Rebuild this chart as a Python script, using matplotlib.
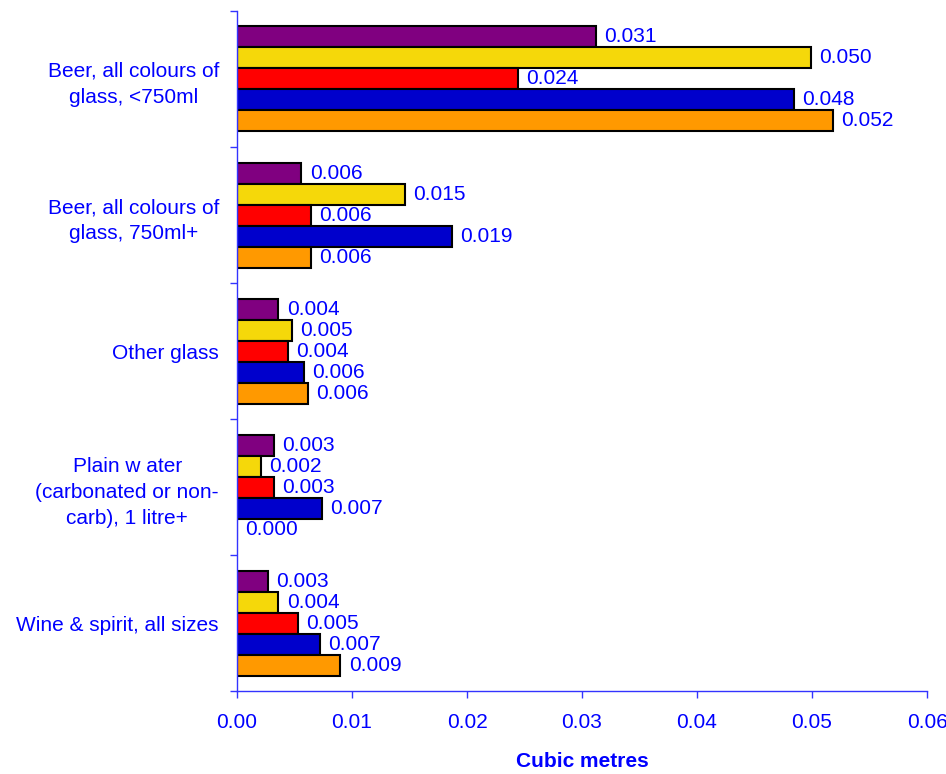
import numpy as np
import matplotlib
matplotlib.use("Agg")
import matplotlib.pyplot as plt

plt.rcParams['font.family'] = ['Liberation Sans', 'DejaVu Sans']

# categories, top to bottom
categories = [
    "Beer, all colours of\nglass, <750ml",
    "Beer, all colours of\nglass, 750ml+",
    "Other glass",
    "Plain w ater\n(carbonated or non-\ncarb), 1 litre+",
    "Wine & spirit, all sizes",
]

# one list per series (drawn top to bottom within each category)
purple_vals = [0.0312, 0.0056, 0.0036, 0.0032, 0.0027]
yellow_vals = [0.0499, 0.0146, 0.0048, 0.0021, 0.0036]
red_vals    = [0.0244, 0.0064, 0.0044, 0.0032, 0.0053]
blue_vals   = [0.0484, 0.0187, 0.0058, 0.0074, 0.0072]
orange_vals = [0.0518, 0.0064, 0.0062, 0.0000, 0.0090]

series = [purple_vals, yellow_vals, red_vals, blue_vals, orange_vals]
colors = ['#800080', '#F5D80A', '#FF0000', '#0000CC', '#FF9900']

text_blue = '#0000FF'
axis_blue = '#3333FF'

fig = plt.figure(figsize=(9.46, 7.74), dpi=100)
ax = fig.add_axes([0.2505, 0.1072, 0.7295, 0.8786])

y = np.arange(len(categories))
h = 0.772 / len(series)

for i, (vals, col) in enumerate(zip(series, colors)):
    pos = y + (i - 2) * h
    ax.barh(pos, vals, height=h, color=col, edgecolor='black', linewidth=1.5)
    for p, v in zip(pos, vals):
        ax.annotate(f"{v:.3f}", (v, p), xytext=(6, 0), textcoords='offset points',
                    ha='left', va='center', color=text_blue, fontsize=15)

ax.set_xlim(0, 0.06)
ax.set_ylim(len(categories) - 0.5, -0.5)

ax.set_xticks(np.arange(0, 0.061, 0.01))
ax.set_xticklabels([f"{t:.2f}" for t in np.arange(0, 0.061, 0.01)])
ax.tick_params(axis='x', colors=axis_blue, labelcolor=text_blue, labelsize=15,
               length=5, width=1, direction='out', pad=11)

# boundary ticks on the y axis, category names as minor ticks
ax.set_yticks(np.arange(-0.5, len(categories), 1.0))
ax.set_yticklabels([])
ax.set_yticks(y, minor=True)
ax.set_yticklabels(categories, minor=True, multialignment='center', linespacing=1.45)
ax.tick_params(axis='y', which='major', colors=axis_blue, length=5, width=1)
ax.tick_params(axis='y', which='minor', length=0, pad=13,
               labelcolor=text_blue, labelsize=15)

for s in ['top', 'right']:
    ax.spines[s].set_visible(False)
for s in ['left', 'bottom']:
    ax.spines[s].set_color(axis_blue)
    ax.spines[s].set_linewidth(1)

ax.set_xlabel("Cubic metres", color=text_blue, fontsize=15, fontweight='bold', labelpad=14)

fig.savefig("out.png", dpi=100)
